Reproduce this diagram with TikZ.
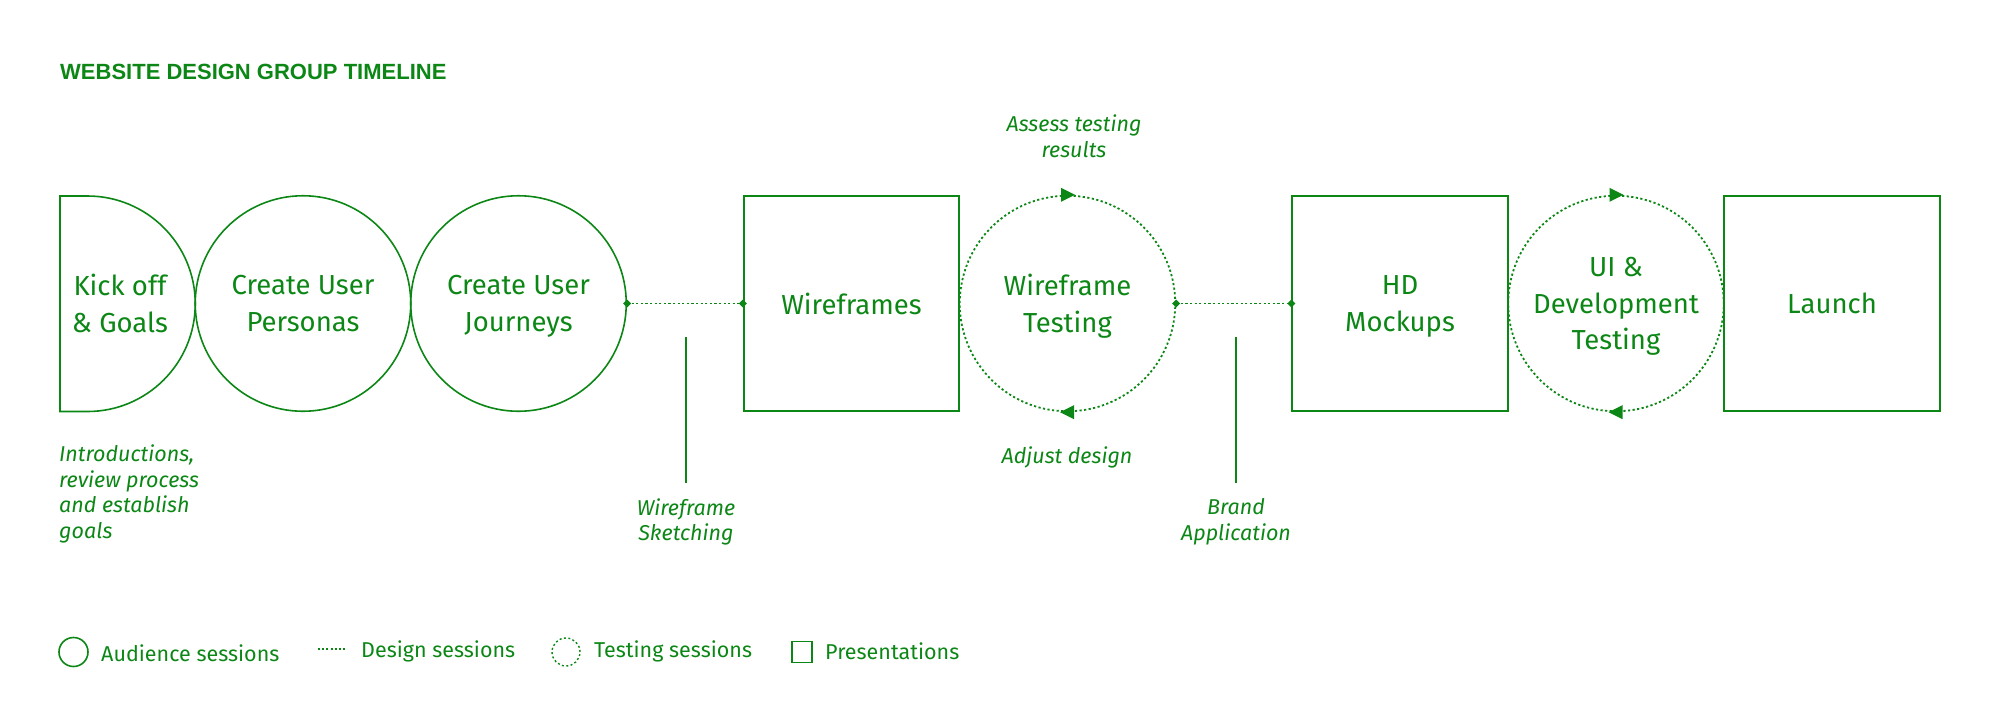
\documentclass[tikz,border=0pt]{standalone}
\usepackage{fontspec}
\setmainfont{Fira Sans}
\newfontfamily\titlefont{Liberation Sans}
\usetikzlibrary{arrows.meta}
\definecolor{gr}{RGB}{12,135,22}
\tikzset{
  every node/.style={text=gr, inner sep=0pt},
  outl/.style={draw=gr, line width=1.6pt},
  dotl/.style={draw=gr, line width=1.8pt, dash pattern=on 2.2pt off 2.4pt},
  bigtxt/.style={font=\fontsize{27.5}{36.5}\selectfont, align=center, text depth=0pt},
  lbl/.style={font=\fontsize{21.5}{25.5}\selectfont\itshape, align=center},
  leg/.style={font=\fontsize{21.5}{24}\selectfont, anchor=west},
  pres/.style={outl, rectangle, minimum width=215.5pt, minimum height=215.5pt, bigtxt},
  aud/.style={outl, circle, minimum size=215.5pt, bigtxt},
  tst/.style={dotl, circle, minimum size=215.5pt, bigtxt},
  enddot/.style={fill=gr},
  vline/.style={draw=gr, line width=1.8pt},
  tri/.style={fill=gr}
}
\begin{document}
\begin{tikzpicture}[x=1pt,y=-1pt]
\useasboundingbox (0,0) rectangle (2000,724);
% title
\node[anchor=base west, font=\fontsize{22}{26}\selectfont\titlefont\bfseries] (title) at (60,79.5) {WEBSITE DESIGN GROUP TIMELINE};
% kick off shape
\draw[outl] (60,196) -- (87.5,196) arc[start angle=-90, end angle=90, radius=107.75] -- (60,411.5) -- cycle;
\node[bigtxt] (kick) at (120,303.5) {Kick off\\\& Goals};
% circles
\node[aud] (pers) at (303,303.5) {Create User\\Personas};
\node[aud] (jour) at (518.5,303.5) {Create User\\Journeys};
\node[pres] (wire) at (851.5,303.5) {Wireframes};
\node[tst] (wtest) at (1067.5,303.5) {Wireframe\\Testing};
\node[pres] (hd) at (1400,303.5) {HD\\Mockups};
\node[tst] (uitest) at (1616,303.5) {UI \&\\Development\\Testing};
\node[pres] (launch) at (1832,303.5) {Launch};
% design connectors
\draw[dotl] (jour.east) -- (wire.west);
\draw[dotl] (wtest.east) -- (hd.west);
\foreach \p in {jour.east, wire.west, wtest.east, hd.west}{
  \fill[enddot] (\p) +(-4,0) -- +(0,-4) -- +(4,0) -- +(0,4) -- cycle;
}
% arrows on testing circles
\foreach \c in {wtest, uitest}{
  \fill[tri] (\c.north) +(-6.5,-7) -- +(7.5,0) -- +(-6.5,7) -- cycle;
  \fill[tri] (\c.south) +(6.5,-7) -- +(-7.5,0) -- +(6.5,7) -- cycle;
}
% labels
\node[lbl] (assess) at (1074,136) {Assess testing\\results};
\node[lbl] (adjust) at (1067,457) {Adjust design};
\node[lbl] (sketch) at (686,522) {Wireframe\\Sketching};
\node[lbl] (brand) at (1236,522) {Brand\\Application};
\node[lbl, align=left, anchor=west] (intro) at (59,494) {Introductions,\\review process\\and establish\\goals};
\coordinate (s1) at (686,337);
\coordinate (s2) at (1236,337);
\draw[vline] (s1) -- (s1 |- 0,483);
\draw[vline] (s2) -- (s2 |- 0,483);
% legend
\node[outl, circle, minimum size=29pt] (lg1) at (73.5,652) {};
\node[leg] (lt1) at (101,653) {Audience sessions};
\coordinate (d1) at (318,649);
\coordinate (d2) at (347,649);
\draw[dotl, line width=1.4pt, dash pattern=on 2pt off 2.2pt] (d1) -- (d2);
\node[leg] (lt2) at (361,651) {Design sessions};
\node[dotl, line width=1.4pt, dash pattern=on 2pt off 2.4pt, circle, minimum size=28pt] (lg3) at (566,652) {};
\node[leg] (lt3) at (594,651) {Testing sessions};
\node[outl, rectangle, minimum width=20pt, minimum height=21pt] (lg4) at (802,652) {};
\node[leg] (lt4) at (825,651) {Presentations};
\end{tikzpicture}
\end{document}
